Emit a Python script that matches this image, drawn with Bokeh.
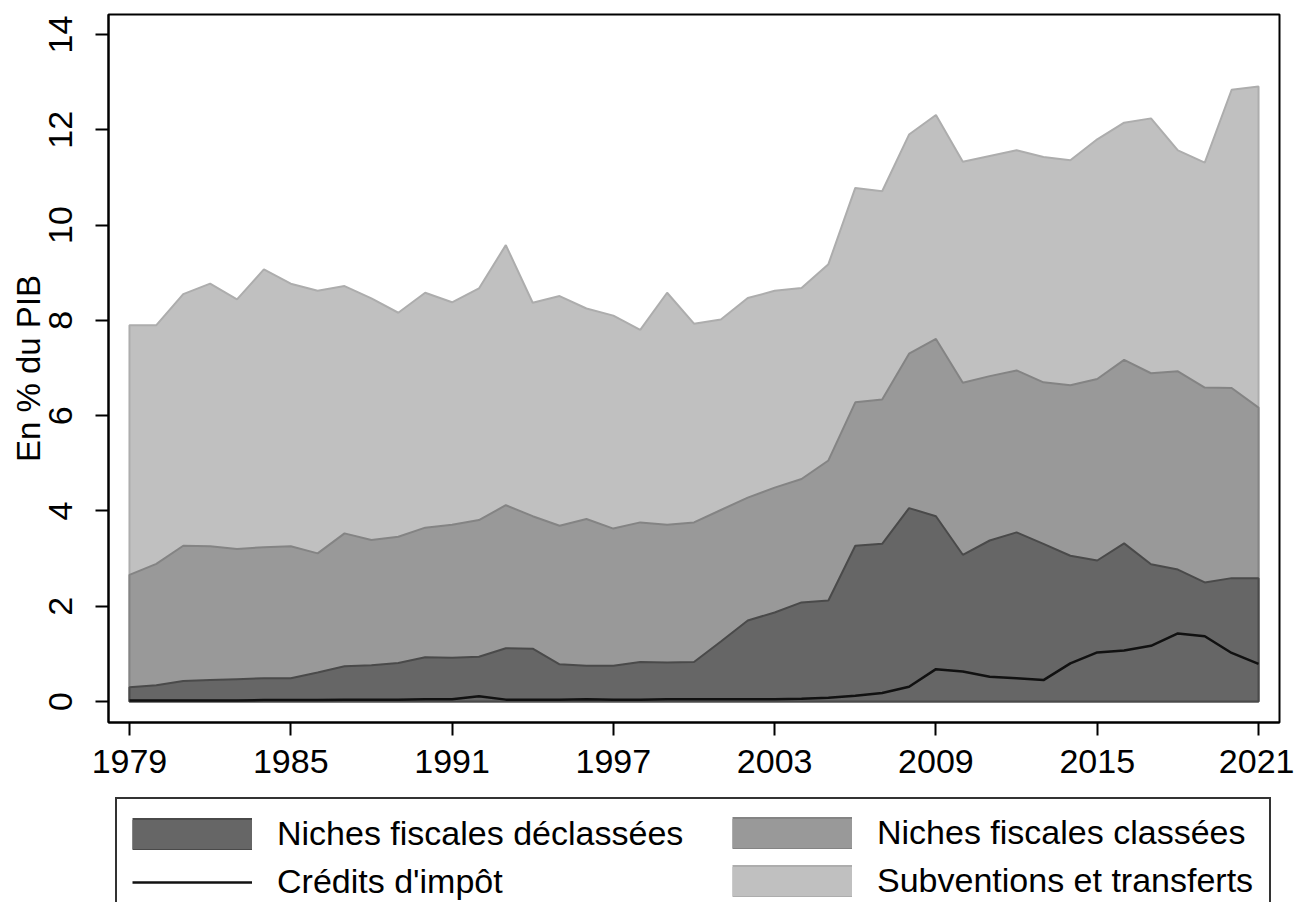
import numpy as np
from bokeh.plotting import figure
from bokeh.layouts import column
from bokeh.models import Range1d, FixedTicker, Legend, LegendItem
from bokeh.embed import file_html
from bokeh.resources import INLINE

years = list(range(1979, 2022))

credits_impot = [0.02, 0.02, 0.02, 0.02, 0.02, 0.03, 0.03, 0.03, 0.04, 0.04,
                 0.04, 0.05, 0.05, 0.11, 0.04, 0.04, 0.04, 0.05, 0.04, 0.04,
                 0.05, 0.05, 0.05, 0.05, 0.05, 0.06, 0.08, 0.12, 0.18, 0.31,
                 0.68, 0.63, 0.52, 0.49, 0.45, 0.80, 1.03, 1.07, 1.17, 1.43,
                 1.37, 1.02, 0.79]

niches_declassees = [0.30, 0.34, 0.43, 0.45, 0.47, 0.49, 0.49, 0.61, 0.74, 0.76,
                     0.81, 0.93, 0.92, 0.94, 1.12, 1.11, 0.78, 0.75, 0.75, 0.83,
                     0.82, 0.83, 1.26, 1.70, 1.87, 2.08, 2.12, 3.27, 3.31, 4.06,
                     3.89, 3.08, 3.38, 3.55, 3.31, 3.06, 2.96, 3.32, 2.88, 2.77,
                     2.50, 2.59, 2.59]

niches_classees = [2.36, 2.55, 2.84, 2.81, 2.73, 2.75, 2.77, 2.50, 2.79, 2.63,
                   2.65, 2.72, 2.79, 2.87, 3.00, 2.78, 2.91, 3.08, 2.88, 2.93,
                   2.89, 2.93, 2.76, 2.58, 2.62, 2.59, 2.94, 3.01, 3.03, 3.24,
                   3.72, 3.61, 3.45, 3.40, 3.39, 3.58, 3.81, 3.85, 4.01, 4.16,
                   4.09, 3.99, 3.58]

subventions_transferts = [5.24, 5.01, 5.28, 5.51, 5.24, 5.83, 5.51, 5.51, 5.19, 5.07,
                          4.70, 4.93, 4.67, 4.86, 5.46, 4.48, 4.82, 4.42, 4.47, 4.04,
                          4.87, 4.17, 4.00, 4.19, 4.13, 4.01, 4.12, 4.50, 4.37, 4.60,
                          4.70, 4.64, 4.62, 4.62, 4.73, 4.72, 5.03, 4.98, 5.35, 4.64,
                          4.72, 6.26, 6.74]

x_ticks = [1979, 1985, 1991, 1997, 2003, 2009, 2015, 2021]
y_ticks = [0, 2, 4, 6, 8, 10, 12, 14]

FONT = "Liberation Sans"

FILL_SUB, EDGE_SUB = "#c0c0c0", "#adadad"
FILL_CLS, EDGE_CLS = "#999999", "#848484"
FILL_DEC, EDGE_DEC = "#666666", "#4a4a4a"
CRED_COLOR = "#111111"

lvl1 = np.array(niches_declassees)
lvl2 = lvl1 + np.array(niches_classees)
lvl3 = lvl2 + np.array(subventions_transferts)


def polygon(top):
    xs = years + years[::-1]
    ys = list(top) + [0.0] * len(years)
    return xs, ys


W = 1294
p = figure(width=W, height=790, output_backend="svg", toolbar_location=None,
           x_range=Range1d(1978.22, 2021.78), y_range=Range1d(-0.44, 14.42),
           min_border_left=102, min_border_right=15, min_border_top=14,
           min_border_bottom=68)
p.background_fill_color = "white"
p.border_fill_color = "white"

for top, fill, edge in ((lvl3, FILL_SUB, EDGE_SUB), (lvl2, FILL_CLS, EDGE_CLS),
                        (lvl1, FILL_DEC, EDGE_DEC)):
    xs, ys = polygon(top)
    p.patch(xs, ys, fill_color=fill, line_color=edge, line_width=2)
p.line(years, credits_impot, line_color=CRED_COLOR, line_width=2.5)

p.xaxis.ticker = FixedTicker(ticks=x_ticks)
p.yaxis.ticker = FixedTicker(ticks=y_ticks)
for ax in (p.xaxis[0], p.yaxis[0]):
    ax.axis_line_color = "black"
    ax.axis_line_width = 2
    ax.major_tick_line_color = "black"
    ax.major_tick_line_width = 2
    ax.major_tick_in = 0
    ax.major_tick_out = 13
    ax.minor_tick_line_color = None
    ax.major_label_text_font = FONT
    ax.major_label_text_font_size = "34px"
    ax.major_label_text_color = "black"
p.xaxis.major_label_standoff = 14
p.yaxis.major_label_orientation = "vertical"
p.yaxis.major_label_standoff = 23
p.yaxis.axis_label = "En % du PIB"
p.yaxis.axis_label_text_font = FONT
p.yaxis.axis_label_text_font_size = "33px"
p.yaxis.axis_label_text_font_style = "normal"
p.yaxis.axis_label_text_color = "black"
p.yaxis.axis_label_standoff = 0
p.grid.visible = False
p.outline_line_color = "black"
p.outline_line_width = 2
p.outline_line_alpha = 1.0

# legend panel below the chart; the series are drawn there outside the
# visible range and only serve as legend sources (thick lines -> full swatches)
q = figure(width=W, height=112, output_backend="svg", toolbar_location=None,
           x_axis_type=None, y_axis_type=None,
           x_range=Range1d(0, 1), y_range=Range1d(0, 1),
           min_border_left=108, min_border_right=4, min_border_top=0,
           min_border_bottom=0)
q.outline_line_color = None
q.background_fill_color = "white"
q.border_fill_color = "white"


def swatch(top, fill, edge):
    b = q.line(years, list(top), line_color=edge, line_width=33, line_cap="butt")
    f = q.line(years, list(top), line_color=fill, line_width=29, line_cap="butt")
    return [b, f]


q_sub = swatch(lvl3, FILL_SUB, EDGE_SUB)
q_cls = swatch(lvl2, FILL_CLS, EDGE_CLS)
q_dec = swatch(lvl1, FILL_DEC, EDGE_DEC)
q_cred = [q.line(years, credits_impot, line_color=CRED_COLOR, line_width=2.5)]

common = dict(glyph_width=120, glyph_height=32, label_standoff=25, padding=15,
              spacing=9, margin=7, label_text_font=FONT, label_text_font_size="34px",
              label_text_color="black")

leg2 = Legend(items=[LegendItem(label="Niches fiscales classées", renderers=q_cls),
                     LegendItem(label="Subventions et transferts", renderers=q_sub)],
              location="top_right", label_width=379,
              border_line_color="white", border_line_width=1, border_line_alpha=1.0,
              background_fill_color="white", background_fill_alpha=1.0, **common)
leg1 = Legend(items=[LegendItem(label="Niches fiscales déclassées", renderers=q_dec),
                     LegendItem(label="Crédits d'impôt", renderers=q_cred)],
              location="top_left", label_width=977,
              border_line_color="#333333", border_line_width=2, border_line_alpha=1.0,
              background_fill_alpha=0.0, **common)
q.add_layout(leg2, "center")
q.add_layout(leg1, "center")

layout = column(p, q, spacing=0)
open("out.html", "w").write(file_html(layout, INLINE))
